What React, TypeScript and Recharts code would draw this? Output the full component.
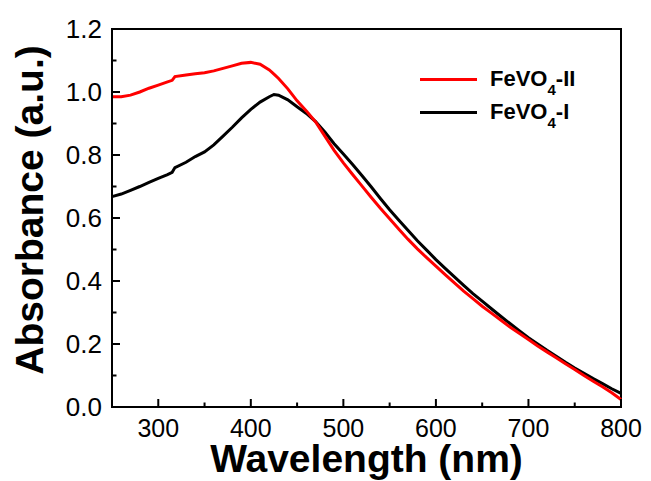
import { LineChart, Line, XAxis, YAxis, Legend, ReferenceArea, Label } from 'recharts'

const wavelengths = [250, 260, 270, 280, 290, 300, 310, 315, 318, 330, 340, 350, 360, 370, 380, 390, 400, 410, 420, 425, 430, 440, 450, 460, 470, 480, 490, 500, 510, 520, 530, 540, 550, 560, 570, 580, 590, 600, 610, 620, 630, 640, 650, 660, 670, 680, 690, 700, 710, 720, 730, 740, 750, 760, 770, 780, 790, 800]

const feVO4II = [0.985, 0.985, 0.99, 1.0, 1.012, 1.022, 1.032, 1.037, 1.049, 1.054, 1.058, 1.061, 1.067, 1.075, 1.083, 1.091, 1.094, 1.088, 1.07, 1.057, 1.043, 1.01, 0.972, 0.94, 0.905, 0.86, 0.815, 0.775, 0.738, 0.702, 0.666, 0.631, 0.598, 0.564, 0.532, 0.502, 0.474, 0.447, 0.42, 0.394, 0.368, 0.344, 0.32, 0.298, 0.276, 0.254, 0.234, 0.214, 0.194, 0.175, 0.156, 0.137, 0.119, 0.1, 0.082, 0.064, 0.045, 0.024]

const feVO4I = [0.668, 0.676, 0.688, 0.7, 0.713, 0.726, 0.738, 0.745, 0.76, 0.777, 0.795, 0.81, 0.832, 0.86, 0.888, 0.918, 0.945, 0.968, 0.985, 0.992, 0.99, 0.975, 0.953, 0.932, 0.906, 0.873, 0.836, 0.803, 0.77, 0.735, 0.699, 0.662, 0.626, 0.593, 0.56, 0.528, 0.498, 0.468, 0.44, 0.413, 0.386, 0.36, 0.336, 0.312, 0.288, 0.265, 0.242, 0.22, 0.2, 0.18, 0.161, 0.142, 0.124, 0.107, 0.09, 0.074, 0.058, 0.043]

const xTicks = [250, 300, 350, 400, 450, 500, 550, 600, 650, 700, 750, 800]
const yTicks = [0, 0.1, 0.2, 0.3, 0.4, 0.5, 0.6, 0.7, 0.8, 0.9, 1.0, 1.1, 1.2]

const data = wavelengths.map((wl, i) => ({ wl, II: feVO4II[i], I: feVO4I[i] }))

const FONT = '"Liberation Sans", Arial, sans-serif'

function XTick({ x, y, payload }: any) {
  const v = payload.value
  const major = v % 100 === 0
  return (
    <g>
      {v !== 250 && <line x1={x} x2={x} y1={y} y2={y - (major ? 8 : 4.5)} stroke="#000" strokeWidth={2} />}
      {major && (
        <text x={x} y={y + 30} textAnchor="middle" fontSize={25} fontFamily={FONT} fill="#000">
          {v}
        </text>
      )}
    </g>
  )
}

function YTick({ x, y, payload }: any) {
  const v = payload.value
  const major = Math.round(v * 10) % 2 === 0
  return (
    <g>
      <line x1={x} x2={x + (major ? 8 : 4.5)} y1={y} y2={y} stroke="#000" strokeWidth={2} />
      {major && (
        <text x={x - 10} y={y + 9} textAnchor="end" fontSize={26} fontFamily={FONT} fill="#000">
          {v.toFixed(1)}
        </text>
      )}
    </g>
  )
}

function YTitle({ viewBox }: any) {
  const cx = viewBox.x + 43
  const cy = viewBox.y + viewBox.height / 2 - 8
  return (
    <text x={cx} y={cy} transform={`rotate(-90 ${cx} ${cy})`} textAnchor="middle" fontSize={39} fontWeight="bold" fontFamily={FONT} fill="#000">
      Absorbance (a.u.)
    </text>
  )
}

function LegendBox() {
  const rows = [
    { color: '#ff0000', suffix: '-II' },
    { color: '#000000', suffix: '-I' },
  ]
  return (
    <div style={{ fontFamily: FONT }}>
      {rows.map((r) => (
        <div key={r.suffix} style={{ display: 'flex', alignItems: 'center', height: 32.7 }}>
          <span style={{ display: 'inline-block', width: 57, height: 3, background: r.color, marginRight: 13 }} />
          <span style={{ fontSize: 22, fontWeight: 'bold', color: '#000', lineHeight: '22px' }}>
            FeVO<sub style={{ fontSize: 15, verticalAlign: '-9px', lineHeight: 0 }}>4</sub>
            {r.suffix}
          </span>
        </div>
      ))}
    </div>
  )
}

export default function App() {
  return (
    <div style={{ position: 'absolute', left: 0, top: 0, background: '#fff' }}>
      <LineChart width={651} height={481} data={data} margin={{ top: 29, right: 30, bottom: 0, left: 0 }}>
        <XAxis
          dataKey="wl"
          type="number"
          domain={[250, 800]}
          ticks={xTicks}
          interval={0}
          height={74}
          tickSize={0}
          tickMargin={0}
          tickLine={false}
          tick={<XTick />}
          axisLine={{ stroke: '#000', strokeWidth: 2 }}
        >
          <Label value="Wavelength (nm)" position="insideBottom" offset={9} fontSize={39} fontWeight="bold" fontFamily={FONT} fill="#000" />
        </XAxis>
        <YAxis
          type="number"
          domain={[0, 1.2]}
          ticks={yTicks}
          interval={0}
          width={112}
          tickSize={0}
          tickMargin={0}
          tickLine={false}
          tick={<YTick />}
          axisLine={{ stroke: '#000', strokeWidth: 2 }}
        >
          <Label content={<YTitle />} />
        </YAxis>
        <ReferenceArea x1={250} x2={800} y1={0} y2={1.2} fill="none" stroke="#000" strokeWidth={2} ifOverflow="visible" />
        <Line type="linear" dataKey="I" stroke="#000000" strokeWidth={3} dot={false} isAnimationActive={false} />
        <Line type="linear" dataKey="II" stroke="#ff0000" strokeWidth={3} dot={false} isAnimationActive={false} />
        <Legend
          layout="vertical"
          align="center"
          verticalAlign="middle"
          content={<LegendBox />}
          wrapperStyle={{ left: 420, top: 63, width: 'auto' }}
        />
      </LineChart>
    </div>
  )
}
